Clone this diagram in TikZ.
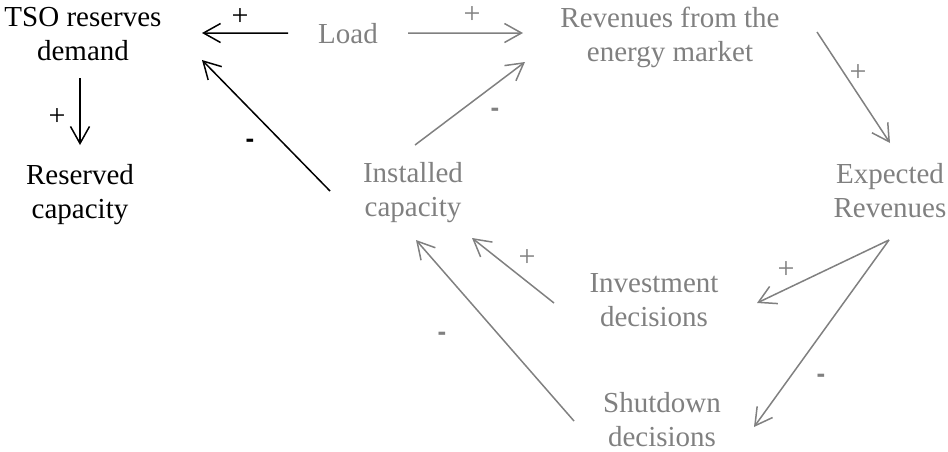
\documentclass[tikz,border=0pt]{standalone}
\usepackage{fontspec}
\setmainfont{Liberation Serif}
\newfontfamily\signfont{Liberation Sans}
\usetikzlibrary{arrows.meta,calc}
\definecolor{loopgray}{RGB}{128,128,128}

\begin{document}
\begin{tikzpicture}[x=0.5pt, y=-0.5pt,
    var/.style={align=center, inner sep=0pt, font=\fontsize{14.5}{17}\selectfont},
    gvar/.style={var, text=loopgray},
    arr/.style={-{Straight Barb[length=8.5pt,width=9.5pt]}, line width=0.75pt},
    garr/.style={arr, draw=loopgray},
    possign/.style={inner sep=0pt, font=\fontsize{15}{17}\selectfont},
    negsign/.style={inner sep=0pt, font=\signfont\bfseries\fontsize{13}{15}\selectfont},
]
\useasboundingbox (0,0) rectangle (948,451);

% Reserves side (black)
\node[var] (tso) at (83,34) {TSO reserves\\demand};
\node[var] (res) at (80,195) {Reserved\\capacity};

% Market loop (gray)
\node[gvar, anchor=base] (load) at (348,43) {Load};
\node[gvar] (rev) at (670,37) {Revenues from the\\energy market};
\node[gvar] (inst) at (413,193) {Installed\\capacity};
\node[gvar] (exp) at (890,191) {Expected\\Revenues};
\node[gvar] (inv) at (654,300) {Investment\\decisions};
\node[gvar] (shut) at (662,420) {Shutdown\\decisions};

% Edges into the reserves
\draw[arr] ($(load)+(-60,0)$) -- ($(tso)+(119,-1)$);
\draw[arr] ($(inst)+(-83,-2)$) -- ($(tso)+(119,26)$);
\draw[arr] ($(tso)+(-3,44)$) -- ($(res)+(0,-50)$);

% Edges of the loop
\draw[garr] ($(load)+(60,0)$) -- ($(rev)+(-147,-4)$);
\draw[garr] ($(inst)+(2,-48)$) -- ($(rev)+(-145,25)$);
\draw[garr] ($(rev)+(147,-5)$) -- ($(exp)+(0,-48)$);
\draw[garr] ($(exp)+(-1,49)$) -- ($(inv)+(103,3)$);
\draw[garr] ($(exp)+(-1,49)$) -- ($(shut)+(92,7)$);
\draw[garr] ($(inv)+(-100,3)$) -- ($(inst)+(59,45)$);
\draw[garr] ($(shut)+(-88,1)$) -- ($(inst)+(3,47)$);

% Signs
\node[possign] (s1) at (240,17) {+};
\node[negsign] (s2) at (250,143) {-};
\node[possign] (s3) at (57,117) {+};
\node[possign, text=loopgray] (s4) at (472,15) {+};
\node[negsign, text=loopgray] (s5) at (495,112) {-};
\node[possign, text=loopgray] (s6) at (858,73) {+};
\node[possign, text=loopgray] (s7) at (786,270) {+};
\node[negsign, text=loopgray] (s8) at (821,378) {-};
\node[possign, text=loopgray] (s9) at (527,258) {+};
\node[negsign, text=loopgray] (s10) at (442,336) {-};
\end{tikzpicture}
\end{document}
